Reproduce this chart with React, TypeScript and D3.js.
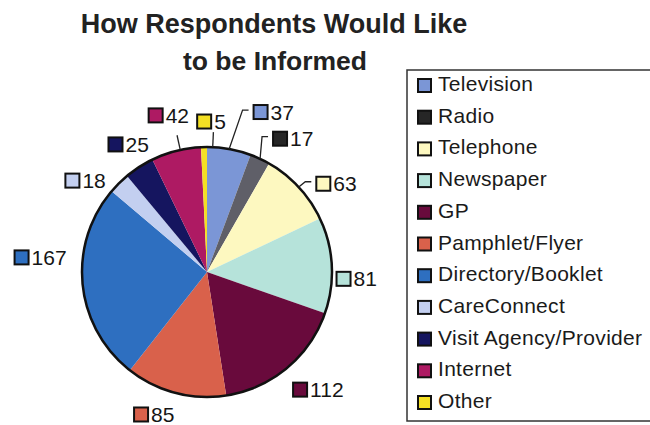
import React from "react";
import * as d3 from "d3";

const categories = [
  "Television",
  "Radio",
  "Telephone",
  "Newspaper",
  "GP",
  "Pamphlet/Flyer",
  "Directory/Booklet",
  "CareConnect",
  "Visit Agency/Provider",
  "Internet",
  "Other",
];
const values = [37, 17, 63, 81, 112, 85, 167, 18, 25, 42, 5];
const sliceColors = [
  "#7b96d6", "#5f5f68", "#fdf8c0", "#b6e3da", "#690a3c", "#d9614b",
  "#2e6fc0", "#c3cff0", "#15155f", "#ae1a63", "#f4e024",
];
const swatchColors = [
  "#7b96d6", "#262626", "#fdf8c0", "#b6e3da", "#690a3c", "#d9614b",
  "#2e6fc0", "#c3cff0", "#15155f", "#ae1a63", "#f4e024",
];
const titleLines = ["How Respondents Would Like", "to be Informed"];

// label placement (angle shift in degrees from slice middle, radius of swatch centre)
const labelAngleShift = [8.3, 3.6, 5.6, 5.9, 1.4, 10.2, 10.3, -11.1, -2.8, -3.8, 0.3];
const labelRadius = [168.7, 152, 146, 136.7, 150, 157, 186, 162.7, 157, 164.8, 150.5];
const leaderKind = ["elbow", "elbow", "elbow", "", "", "", "", "", "", "tick", "tick"];
const leaderShift = [0, 0, 0, 0, 0, 0, 0, 0, 0, 2, 4];

const W = 650;
const H = 425;
const cx = 207;
const cy = 272;
const R = 125;
const FONT = "'Liberation Sans', Arial, Helvetica, sans-serif";

export default function App() {
  const pie = d3
    .pie<number>()
    .sort(null)
    .value((d) => d)
    .startAngle(0)
    .endAngle(2 * Math.PI);
  const arcs = pie(values);
  const arc = d3.arc<d3.PieArcDatum<number>>().innerRadius(0).outerRadius(R);

  const legendY = d3
    .scaleLinear()
    .domain([0, categories.length - 1])
    .range([91, 408]);

  return (
    <svg
      width={W}
      height={H}
      style={{ position: "absolute", left: 0, top: 0, background: "#fff" }}
      fontFamily={FONT}
    >
      <rect x={0} y={0} width={W} height={H} fill="#fff" />
      {/* title */}
      <text
        x={274}
        y={33}
        textAnchor="middle"
        fontSize={27}
        fontWeight="bold"
        fill="#222"
      >
        {titleLines[0]}
      </text>
      <text
        x={275}
        y={70}
        textAnchor="middle"
        fontSize={26.5}
        fontWeight="bold"
        fill="#222"
      >
        {titleLines[1]}
      </text>

      {/* pie */}
      <g transform={`translate(${cx},${cy})`}>
        {arcs.map((a, i) => (
          <path key={i} d={arc(a) || ""} fill={sliceColors[i]} />
        ))}
        <circle r={R} fill="none" stroke="#111" strokeWidth={2.5} />
      </g>

      {/* labels */}
      {arcs.map((a, i) => {
        const mid = (a.startAngle + a.endAngle) / 2;
        const ang = mid + (labelAngleShift[i] * Math.PI) / 180;
        const sx = cx + labelRadius[i] * Math.sin(ang);
        const sy = cy - labelRadius[i] * Math.cos(ang);
        const sq = 14;
        const left = sx - sq / 2;
        const la = mid + (leaderShift[i] * Math.PI) / 180;
        const ex = cx + R * Math.sin(la);
        const ey = cy - R * Math.cos(la);
        let leader: React.ReactNode = null;
        if (leaderKind[i] === "elbow") {
          leader = (
            <polyline
              points={`${ex},${ey} ${left - 11},${sy - 2} ${left - 5},${sy - 2}`}
              fill="none"
              stroke="#222"
              strokeWidth={1.3}
            />
          );
        } else if (leaderKind[i] === "tick") {
          const r2 = R + 15;
          leader = (
            <line
              x1={ex}
              y1={ey}
              x2={cx + r2 * Math.sin(la)}
              y2={cy - r2 * Math.cos(la)}
              stroke="#222"
              strokeWidth={1.3}
            />
          );
        }
        return (
          <g key={i}>
            {leader}
            <rect
              x={left}
              y={sy - sq / 2}
              width={sq}
              height={sq}
              fill={swatchColors[i]}
              stroke="#111"
              strokeWidth={2}
            />
            <text x={left + sq + 3} y={sy + 7.5} fontSize={21} fill="#151515">
              {values[i]}
            </text>
          </g>
        );
      })}

      {/* legend */}
      <rect
        x={407}
        y={70}
        width={260}
        height={351}
        fill="none"
        stroke="#333"
        strokeWidth={1.5}
      />
      {categories.map((c, i) => {
        const y = legendY(i);
        return (
          <g key={c}>
            <rect
              x={418}
              y={y - 12}
              width={13}
              height={13}
              fill={swatchColors[i]}
              stroke="#111"
              strokeWidth={2}
            />
            <text
              x={438}
              y={y}
              fontSize={21}
              letterSpacing={0.3}
              fill="#1a1a1a"
            >
              {c}
            </text>
          </g>
        );
      })}
    </svg>
  );
}
